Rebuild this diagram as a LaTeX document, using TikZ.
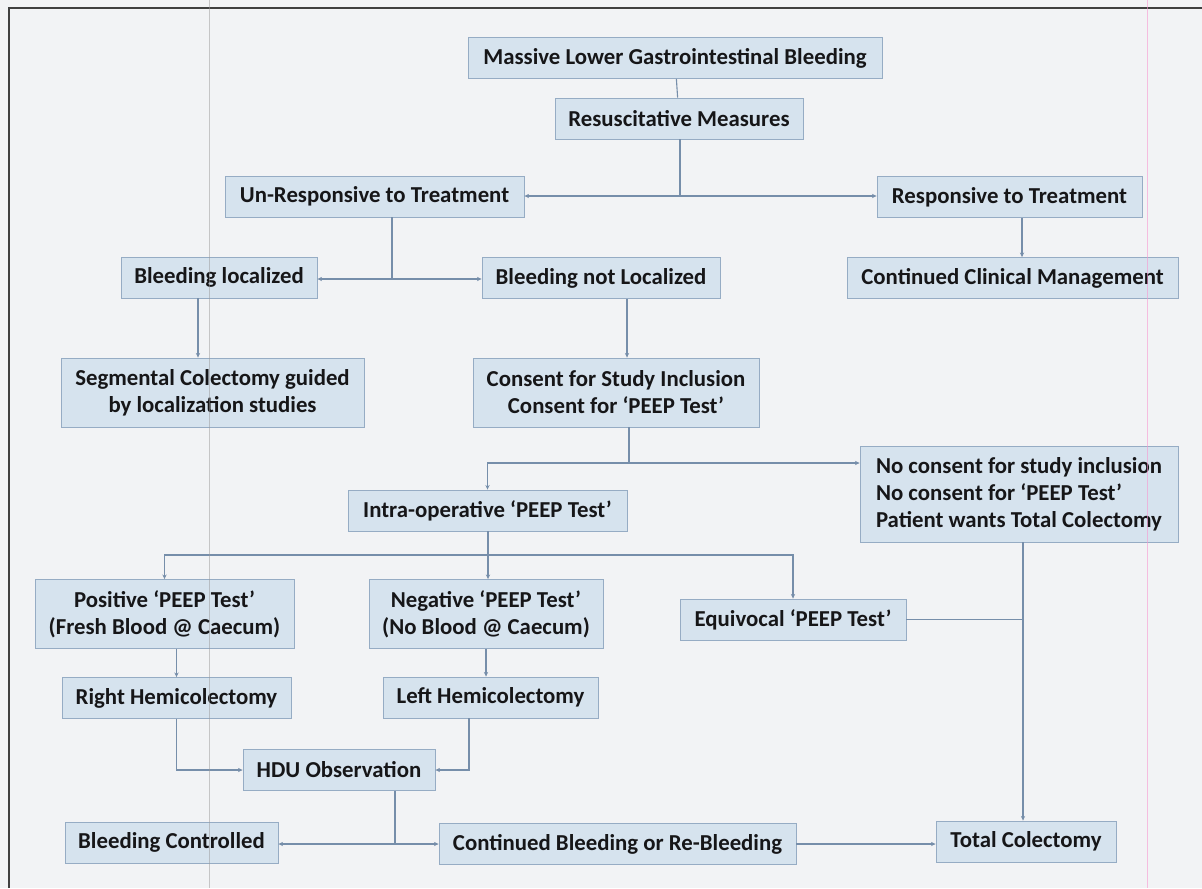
\documentclass[tikz,border=0pt]{standalone}
\usepackage{fontspec}
\setmainfont{Carlito}
\usetikzlibrary{arrows.meta}

\definecolor{paper}{RGB}{242,243,245}
\definecolor{boxfill}{RGB}{214,227,238}
\definecolor{boxline}{RGB}{150,172,196}
\definecolor{wire}{RGB}{118,142,170}
\definecolor{ink}{RGB}{22,22,24}

\tikzstyle{box}=[draw=boxline,fill=boxfill,inner sep=0pt,minimum height=20.5pt,text=ink,font=\fontsize{11.4}{13.5}\selectfont\bfseries,align=center]
\tikzstyle{tallbox}=[box,minimum height=34.5pt]
\tikzstyle{edge}=[wire,line width=0.55pt]
\tikzstyle{arrow}=[edge,-{Stealth[length=2.3pt,width=2.1pt]}]

\begin{document}
\begin{tikzpicture}[x=0.5pt,y=-0.5pt]
    \fill[paper] (0,0) rectangle (1202,888);
    \useasboundingbox (0,0) rectangle (1202,888);
    \draw[black!75,line width=0.7pt] (9,888) -- (9,8) -- (1202,8);

    \node (mass)[box,minimum width=207pt] at (675,58) {Massive Lower Gastrointestinal Bleeding};
    \node (resus)[box,minimum width=124pt] at (679,118.5) {Resuscitative Measures};
    \node (unresp)[box,minimum width=149.5pt] at (374.5,196.5) {Un-Responsive to Treatment};
    \node (resp)[box,minimum width=132.5pt] at (1009.5,197) {Responsive to Treatment};
    \node (bloc)[box,minimum width=98pt] at (219,277.5) {Bleeding localized};
    \node (bnot)[box,minimum width=119pt] at (601,278) {Bleeding not Localized};
    \node (clin)[box,minimum width=165.5pt] at (1012.5,278) {Continued Clinical Management};
    \node (segm)[tallbox,minimum width=151.5pt] at (212.5,392.5) {Segmental Colectomy guided\\by localization studies};
    \node (cons)[tallbox,minimum width=143pt] at (616,392.5) {Consent for Study Inclusion\\Consent for `PEEP Test'};
    \node (intra)[box,minimum width=139.5pt] at (487.5,510.5) {Intra-operative `PEEP Test'};
    \node (nocons)[box,minimum height=48pt,minimum width=159pt,align=left] at (1019,494) {No consent for study inclusion\\No consent for `PEEP Test'\\Patient wants Total Colectomy};
    \node (pos)[tallbox,minimum width=129.5pt] at (164.5,614) {Positive `PEEP Test'\\(Fresh Blood @ Caecum)};
    \node (neg)[tallbox,minimum width=117pt] at (486,614) {Negative `PEEP Test'\\(No Blood @ Caecum)};
    \node (equi)[box,minimum width=113pt] at (793,619.5) {Equivocal `PEEP Test'};
    \node (rhemi)[box,minimum width=114.5pt] at (176.5,698) {Right Hemicolectomy};
    \node (lhemi)[box,minimum width=107.5pt] at (490.5,697.5) {Left Hemicolectomy};
    \node (hdu)[box,minimum width=96pt] at (339,770) {HDU Observation};
    \node (bctrl)[box,minimum width=106.5pt] at (171.5,842.5) {Bleeding Controlled};
    \node (cont)[box,minimum width=178.5pt] at (617.5,844) {Continued Bleeding or Re-Bleeding};
    \node (total)[box,minimum width=90pt] at (1026,841.5) {Total Colectomy};

    \coordinate (k1) at (680,196);
    \coordinate (k2) at (392,279);
    \coordinate (k3) at (198,0);
    \coordinate (k4) at (627,0);
    \coordinate (k5) at (1022,0);
    \coordinate (k6) at (629,463);
    \coordinate (k7) at (488,555);
    \coordinate (k8) at (469,0);
    \coordinate (k9) at (395,844);
    \coordinate (k10) at (1023,0);

    \draw[edge] (mass) -- (resus);
    \draw[edge] (resus.south -| k1) -- (k1);
    \draw[arrow] (k1) -- (k1 -| unresp.east);
    \draw[arrow] (k1) -- (k1 -| resp.west);
    \draw[arrow] (resp.south -| k5) -- (clin.north -| k5);

    \draw[edge] (unresp.south -| k2) -- (k2);
    \draw[arrow] (k2) -- (k2 -| bloc.east);
    \draw[arrow] (k2) -- (k2 -| bnot.west);
    \draw[arrow] (bloc.south -| k3) -- (segm.north -| k3);
    \draw[arrow] (bnot.south -| k4) -- (cons.north -| k4);

    \draw[edge] (cons.south -| k6) -- (k6);
    \draw[arrow] (k6) -- (k6 -| nocons.west);
    \draw[arrow] (k6) -| (intra);

    \draw[edge] (intra.south -| k7) -- (k7);
    \draw[arrow] (k7) -| (pos);
    \draw[arrow] (k7) -| (equi);
    \draw[arrow] (k7) -- (k7 |- neg.north);

    \draw[arrow] (pos.south -| rhemi) -- (rhemi);
    \draw[arrow] (neg) -- (neg |- lhemi.north);
    \draw[arrow] (rhemi) |- (hdu);
    \draw[arrow] (lhemi.south -| k8) |- (hdu);

    \draw[edge] (hdu.south -| k9) -- (k9);
    \draw[arrow] (k9) -- (k9 -| bctrl.east);
    \draw[arrow] (k9) -- (k9 -| cont.west);
    \draw[arrow] (cont) -- (cont -| total.west);

    \draw[edge] (equi) -- (equi -| k10);
    \draw[arrow] (nocons.south -| k10) -- (total.north -| k10);

    % faint marks of the scanned page
    \draw[black!40,line width=0.4pt,opacity=0.5] (209,0) -- (209,888);
    \draw[magenta!40,line width=0.4pt,opacity=0.6] (1147,0) -- (1147,888);
\end{tikzpicture}
\end{document}
